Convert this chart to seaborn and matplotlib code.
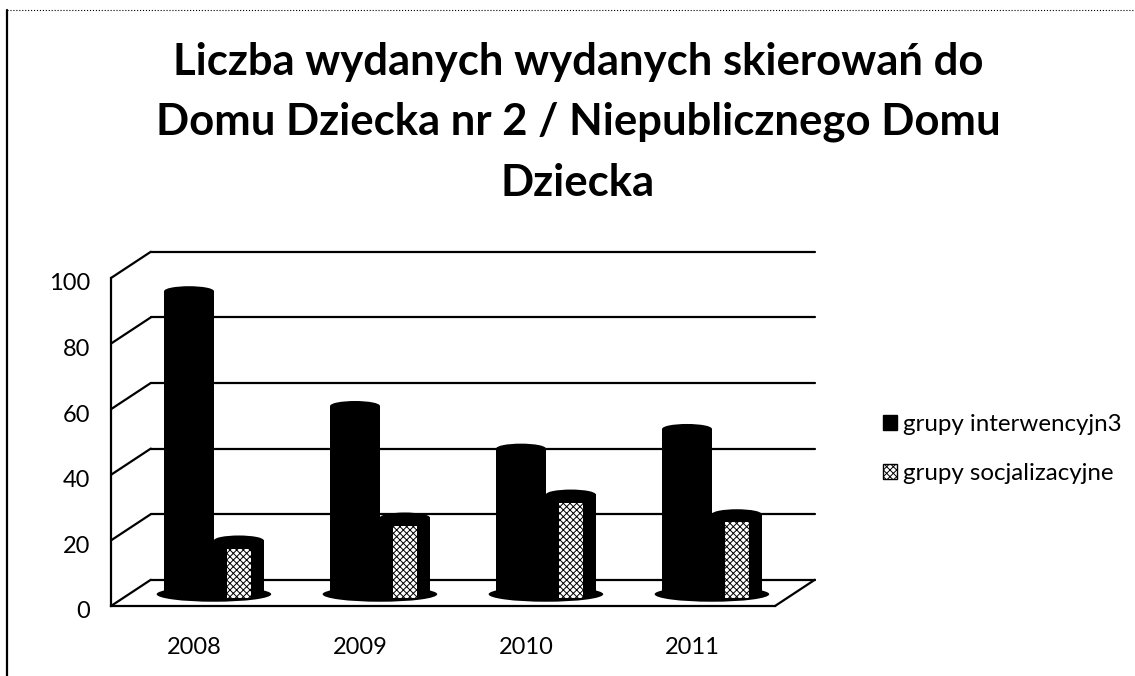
import matplotlib
matplotlib.use("Agg")
import matplotlib.pyplot as plt
import pandas as pd
import seaborn as sns
from matplotlib.lines import Line2D
from matplotlib.patches import Ellipse, Patch, Rectangle
from matplotlib.transforms import Affine2D, ScaledTranslation

years = ["2008", "2009", "2010", "2011"]
interwencyjne = [92, 57, 44, 50]
socjalizacyjne = [16, 23, 30, 24]
series_names = ["grupy interwencyjn3", "grupy socjalizacyjne"]
y_ticks = [0, 20, 40, 60, 80, 100]
title_lines = [
    "Liczba wydanych wydanych skierowań do",
    "Domu Dziecka nr 2 / Niepublicznego Domu",
    "Dziecka",
]

df = pd.DataFrame({
    "rok": years * 2,
    "liczba": interwencyjne + socjalizacyjne,
    "grupa": [series_names[0]] * 4 + [series_names[1]] * 4,
})

sns.set_theme(style="white")
plt.rcParams["font.family"] = ["Lato", "DejaVu Sans"]
plt.rcParams["hatch.linewidth"] = 0.7

fig = plt.figure(figsize=(11.35, 6.76), dpi=100)
ax = fig.add_axes([111 / 1135, 70 / 676, 664 / 1135, 328 / 676])

sns.barplot(data=df, x="rok", y="liczba", hue="grupa", palette=["black", "black"],
            width=0.6, ax=ax, legend=False, zorder=3, linewidth=0, saturation=1)
ax.set_xlim(-0.5, 3.5)
ax.set_ylim(0, 100)
ax.set_xlabel("")
ax.set_ylabel("")

# glebokosc wykresu 3D w jednostkach danych
depth_x, depth_y = 0.24, 8.0
lw = 1.6

# sciana tylna, bok i podloga
for v in y_ticks:
    ax.plot([-0.5 + depth_x, 3.5 + depth_x], [v + depth_y, v + depth_y], color="black", lw=lw, clip_on=False, zorder=1)
    ax.plot([-0.5, -0.5 + depth_x], [v, v + depth_y], color="black", lw=lw, clip_on=False, zorder=1)
ax.plot([3.5, 3.5 + depth_x], [0, depth_y], color="black", lw=lw, clip_on=False, zorder=1)

# slupki przesuniete do srodka glebokosci, z zaokraglona gora
shift = Affine2D().translate(depth_x / 2, depth_y / 2) + ax.transData
n_cat = len(years)
bars = list(ax.patches)
for i, bar in enumerate(bars):
    bar.set_transform(shift)
    bar.set_clip_on(False)
    x, w, h = bar.get_x(), bar.get_width(), bar.get_height()
    ax.add_patch(Ellipse((x + w / 2, h), w, 3.0, color="black", lw=0, transform=shift, clip_on=False, zorder=3))
    if i >= n_cat:
        # wnetrze drugiej serii: biale z czarnym kreskowaniem
        ax.add_patch(Rectangle((x + w * 0.26, -1.5), w * 0.48, h - 1.0, facecolor="white", edgecolor="black",
                               hatch="xxxxx", lw=0, transform=shift, clip_on=False, zorder=4))
for c in range(n_cat):
    # cien pod slupkami
    ax.add_patch(Ellipse((c, -0.4), 0.69, 4.6, color="black", lw=0, transform=shift, clip_on=False, zorder=2))

ax.set_yticks(y_ticks)
ax.tick_params(axis="both", length=0, labelsize=17, colors="black")
ax.tick_params(axis="y", pad=15)
ax.tick_params(axis="x", pad=22)
# etykiety osi y lekko nizej niz linie
for lab in ax.get_yticklabels():
    lab.set_transform(lab.get_transform() + ScaledTranslation(0, -4 / 100, fig.dpi_scale_trans))
for s in ["top", "right"]:
    ax.spines[s].set_visible(False)
for s in ["left", "bottom"]:
    ax.spines[s].set_color("black")
    ax.spines[s].set_linewidth(lw)

# tytul
for line, y in zip(title_lines, [62, 122, 183]):
    fig.text(578 / 1135, 1 - y / 676, line, ha="center", va="center", fontsize=31.4, fontweight="bold", color="black")

# legenda
handles = [Patch(facecolor="black", edgecolor="black"),
           Patch(facecolor="white", edgecolor="black", hatch="xxxxx")]
fig.legend(handles, series_names, loc="center left", bbox_to_anchor=(883 / 1135, 1 - 449 / 676), frameon=False,
           fontsize=17.4, labelcolor="black", handlelength=0.58, handleheight=0.58, handletextpad=0.25,
           labelspacing=1.15, borderpad=0, borderaxespad=0)

# ramka ze skanu
fig.add_artist(Line2D([7 / 1135, 7 / 1135], [0, 1 - 10 / 676], color="black", lw=1.6))
fig.add_artist(Line2D([7 / 1135, 1], [1 - 10 / 676, 1 - 10 / 676], color="black", lw=0.8, ls=":"))

fig.savefig("out.png", dpi=100)
